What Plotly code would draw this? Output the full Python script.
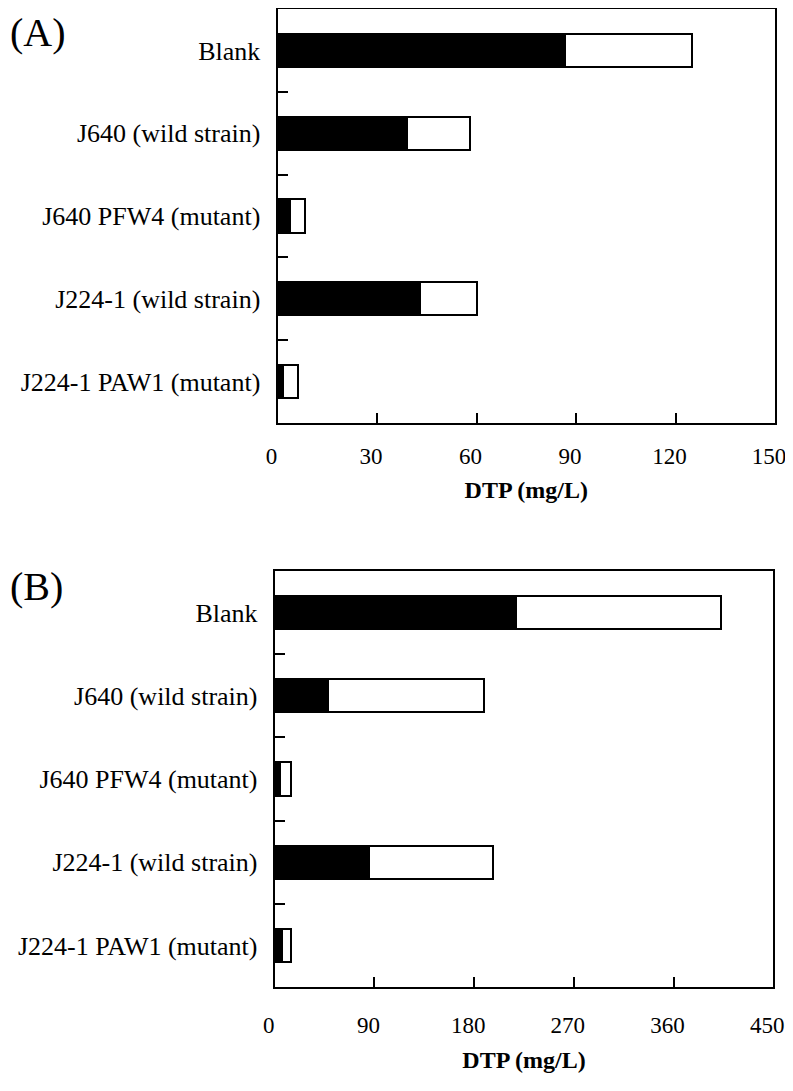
import plotly.graph_objects as go

categories = ["Blank", "J640 (wild strain)", "J640 PFW4 (mutant)",
              "J224-1 (wild strain)", "J224-1 PAW1 (mutant)"]

# Panel A: black segment and total bar length (mg/L)
a_black = [86.8, 39.0, 3.8, 43.0, 1.8]
a_total = [125.0, 58.0, 8.3, 60.0, 6.3]
# Panel B
b_black = [217.5, 48.4, 4.8, 85.4, 6.9]
b_total = [403.0, 189.0, 14.7, 197.0, 14.7]

a_white = [t - b for t, b in zip(a_total, a_black)]
b_white = [t - b for t, b in zip(b_total, b_black)]

a_ticks = [0, 30, 60, 90, 120, 150]
b_ticks = [0, 90, 180, 270, 360, 450]

OFF = 8  # page body margin
W, H = 793 - OFF, 1091 - OFF
FONT = "Liberation Serif"

fig = go.Figure()

def add_pair(black, white, xa, ya):
    fig.add_trace(go.Bar(y=categories, x=black, orientation="h", xaxis=xa, yaxis=ya,
                         marker=dict(color="black", line=dict(color="black", width=2)),
                         width=0.4, showlegend=False))
    fig.add_trace(go.Bar(y=categories, x=white, orientation="h", xaxis=xa, yaxis=ya,
                         marker=dict(color="white", line=dict(color="black", width=2)),
                         width=0.4, showlegend=False))

add_pair(a_black, a_white, "x", "y")
add_pair(b_black, b_white, "x2", "y2")

def px_x(p):
    return min(1.0, max(0.0, (p - OFF) / W))

def px_y(p):
    return min(1.0, max(0.0, 1 - (p - OFF) / H))

common_x = dict(showgrid=False, zeroline=False, showline=True, linecolor="black", linewidth=2,
                mirror=True, ticks="inside", ticklen=10, tickwidth=2, tickcolor="black",
                automargin=False, ticklabelshift=-6,
                tickfont=dict(family=FONT, size=23, color="black"))
common_y = dict(showgrid=False, zeroline=False, showline=True, linecolor="black", linewidth=2,
                mirror=True, ticks="inside", ticklen=10, tickwidth=2, tickcolor="black",
                tickson="boundaries", type="category", categoryorder="array",
                categoryarray=categories, autorange="reversed", automargin=False,
                tickfont=dict(family=FONT, size=26, color="black"), ticklabelstandoff=10)

title_font = dict(family=FONT, size=24, color="black")

fig.update_layout(
    width=W, height=H, margin=dict(l=0, r=0, t=0, b=0),
    plot_bgcolor="white", paper_bgcolor="white", barmode="stack", bargap=0.6,
    xaxis=dict(common_x, domain=[px_x(277.5), px_x(775)], range=[0, 150], tickvals=a_ticks,
               anchor="y", ticklabelstandoff=11,
               title=dict(text="<b>DTP (mg/L)</b>", font=title_font, standoff=14)),
    yaxis=dict(common_y, domain=[px_y(423), px_y(9)], anchor="x"),
    xaxis2=dict(common_x, domain=[px_x(274.7), px_x(773.3)], range=[0, 450], tickvals=b_ticks,
                anchor="y2", ticklabelstandoff=16,
                title=dict(text="<b>DTP (mg/L)</b>", font=title_font, standoff=15)),
    yaxis2=dict(common_y, domain=[px_y(987), px_y(571)], anchor="x2"),
    annotations=[
        dict(text="(A)", x=0, y=1, xref="paper", yref="paper", xanchor="left", yanchor="top",
             showarrow=False, font=dict(family=FONT, size=40, color="black")),
        dict(text="(B)", x=0, y=px_y(562), xref="paper", yref="paper", xanchor="left", yanchor="top",
             showarrow=False, font=dict(family=FONT, size=40, color="black")),
    ],
)

fig.write_html("out.html")
